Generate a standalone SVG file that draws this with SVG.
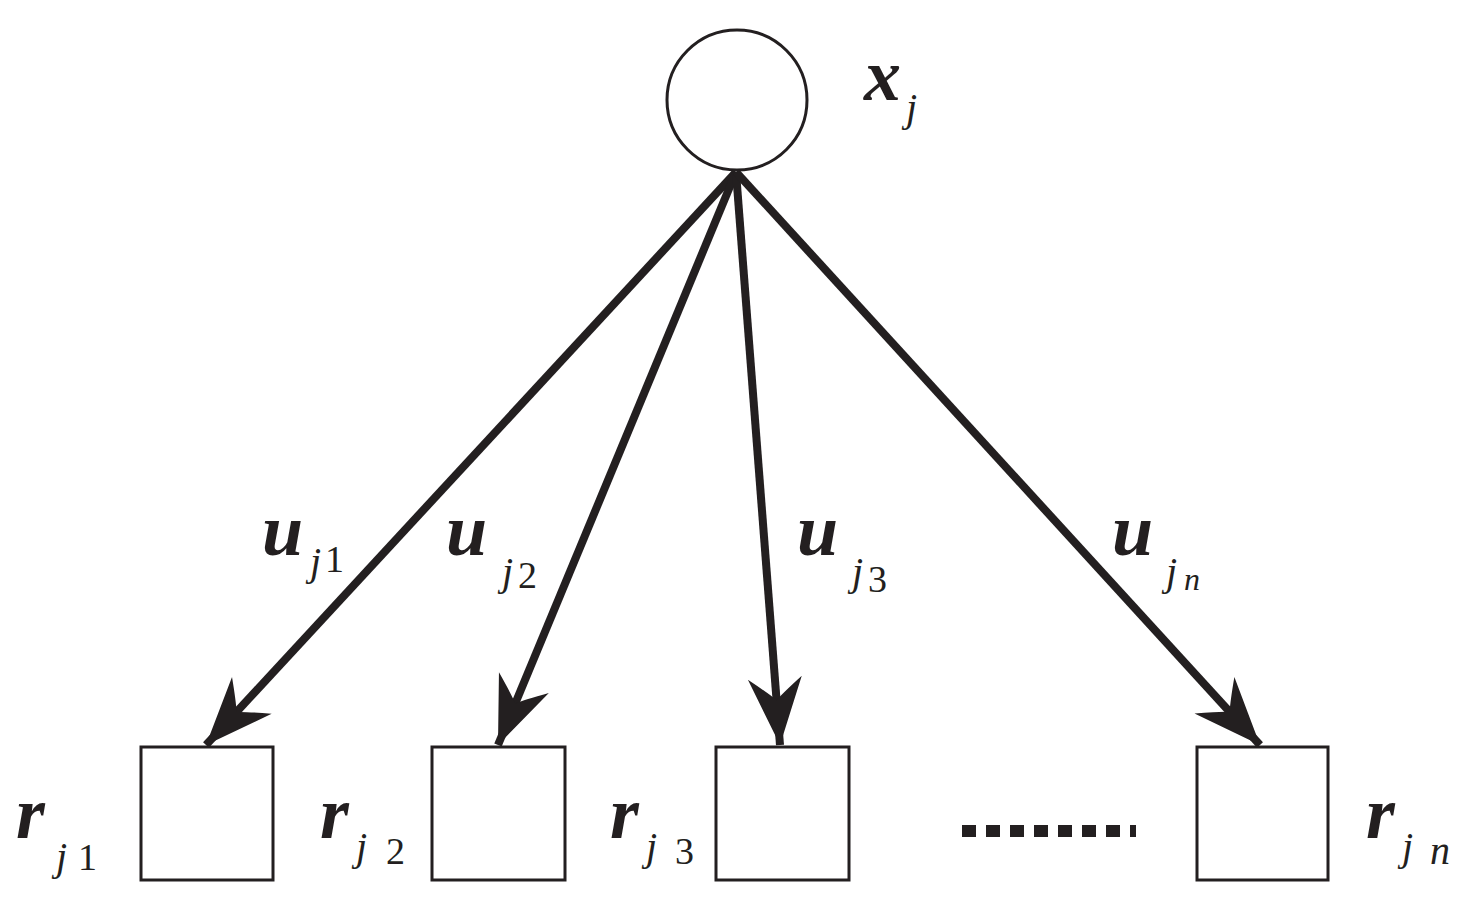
<svg xmlns="http://www.w3.org/2000/svg" width="1479" height="900" viewBox="0 0 1479 900">
<style>
.n{fill:#fff;stroke:#231f20;stroke-width:3}
.e{stroke:#231f20;stroke-width:8;fill:none;marker-end:url(#ah)}
.t{font-family:"Liberation Serif","Times New Roman","DejaVu Serif",serif;font-style:italic;fill:#231f20}
.b{font-size:74px;font-weight:bold}
.s{font-size:40px}
.d{font-style:normal;font-size:38px}
</style>
<defs>
<marker id="ah" markerUnits="userSpaceOnUse" markerWidth="90" markerHeight="90" viewBox="-70 -35 80 70" refX="0" refY="0" orient="auto">
<path d="M0,0 L-60,-24 Q-46,-6 -40,0 Q-46,6 -60,24 Z" fill="#231f20"/>
</marker>
</defs>
<rect width="1479" height="900" fill="#fff"/>
<g id="xj"><circle class="n" cx="737" cy="100" r="70"/>
<text class="t b" x="864" y="100">x</text><text class="t s" x="906" y="121">j</text></g>
<g id="r1"><rect class="n" x="141" y="747" width="132" height="133"/>
<text class="t b" x="16" y="838">r</text><text class="t s" x="56" y="870">j</text><text class="t d" x="78" y="870">1</text></g>
<g id="r2"><rect class="n" x="432" y="747" width="133" height="133"/>
<text class="t b" x="320" y="838">r</text><text class="t s" x="356" y="860">j</text><text class="t d" x="386" y="864">2</text></g>
<g id="r3"><rect class="n" x="716" y="747" width="133" height="133"/>
<text class="t b" x="610" y="838">r</text><text class="t s" x="646" y="860">j</text><text class="t d" x="675" y="864">3</text></g>
<g id="rn"><rect class="n" x="1197" y="747" width="131" height="133"/>
<text class="t b" x="1366" y="838">r</text><text class="t s" x="1402" y="860">j</text><text class="t s" x="1430" y="864">n</text></g>
<g id="dots"><line x1="962" y1="831" x2="1136" y2="831" stroke="#231f20" stroke-width="12" stroke-dasharray="14 10"/></g>
<g id="edges">
<line class="e" x1="736" y1="172" x2="206" y2="745"/>
<line class="e" x1="736" y1="172" x2="498" y2="745"/>
<line class="e" x1="736" y1="172" x2="780" y2="745"/>
<line class="e" x1="736" y1="172" x2="1260" y2="745"/>
</g>
<g id="labels">
<text class="t b" x="262" y="555">u</text><text class="t s" x="310" y="575">j</text><text class="t d" font-size="32" x="325" y="572">1</text>
<text class="t b" x="446" y="555">u</text><text class="t s" x="502" y="585">j</text><text class="t d" font-size="32" x="518" y="588">2</text>
<text class="t b" x="797" y="555">u</text><text class="t s" x="852" y="585">j</text><text class="t d" font-size="32" x="868" y="592">3</text>
<text class="t b" x="1112" y="555">u</text><text class="t s" x="1166" y="585">j</text><text class="t" font-size="32" x="1184" y="590">n</text>
</g>
</svg>
